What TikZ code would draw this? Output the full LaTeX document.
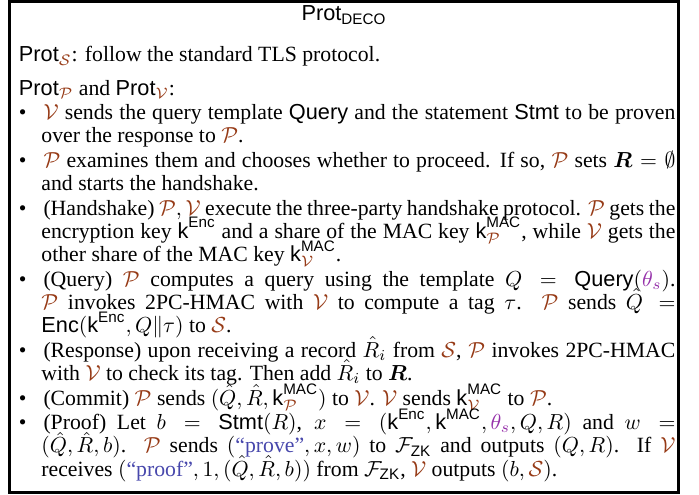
\documentclass[tikz,border=0pt]{standalone}
\usepackage{amsmath}
\usepackage{amssymb}
\usepackage{fontspec}
\setmainfont{Liberation Serif}
\setsansfont{Liberation Sans}
\usetikzlibrary{positioning}
\usetikzlibrary{calc}

\definecolor{partybrown}{RGB}{150,58,22}
\definecolor{paramviolet}{RGB}{150,50,170}
\definecolor{strblue}{RGB}{72,72,172}

\newcommand{\sfn}[1]{\text{\sffamily #1}}
\newcommand{\kkey}{\sfn{k}}
\newcommand{\prv}{{\color{partybrown}\mathcal{P}}}
\newcommand{\vrf}{{\color{partybrown}\mathcal{V}}}
\newcommand{\srv}{{\color{partybrown}\mathcal{S}}}
\newcommand{\fzk}{\mathcal{F}_{\sfn{ZK}}}
\newcommand{\thts}{{\color{paramviolet}\theta_s}}
\newcommand{\strq}[1]{\text{\color{strblue}``#1''}}
\newcommand{\stepfont}{\fontsize{10}{10.7}\selectfont
  \setlength{\lineskiplimit}{-20pt}\setlength{\lineskip}{0pt}\setlength{\parindent}{0pt}}

\newenvironment{protsteps}{\begin{list}{\textbullet}{%
  \setlength{\leftmargin}{10.35pt}\setlength{\labelsep}{7.8pt}%
  \setlength{\labelwidth}{2.55pt}\setlength{\itemsep}{0.6pt}%
  \setlength{\parsep}{0pt}\setlength{\topsep}{0pt}\setlength{\partopsep}{0pt}}}%
  {\end{list}}

\tikzset{frm/.style={draw, line width=1.38pt}}
\tikzset{ttl/.style={inner sep=0pt, anchor=base, font=\fontsize{10}{12}\selectfont}}
\tikzset{protline/.style={inner sep=0pt, anchor=base west, font=\fontsize{10}{12}\selectfont}}
\tikzset{stepbox/.style={inner sep=0pt, anchor=north west, text width=302pt, align=justify, font=\stepfont}}

\begin{document}
\begin{tikzpicture}[x=0.46pt, y=0.46pt]
        \useasboundingbox (0,0) rectangle (699,-495);
        \coordinate (nw) at (9.5,-1.5);
        \coordinate (se) at (678.5,-492.5);
        \draw[frm] (nw) rectangle (se);

        \node[ttl] (title) at (344,-21) {\sfn{Prot}$_{\sfn{DECO}}$};

        \node[protline] (srvline) at (18.5,-62) {\sfn{Prot}$_{\srv}$: follow the standard TLS protocol.};
        \node[protline, below=15.2pt of srvline.base west, anchor=base west] (cltline)
            {\sfn{Prot}$_{\prv}$ and \sfn{Prot}$_{\vrf}$:};

        \node[stepbox, below=0.3pt of cltline.base west, anchor=north west] (steps) {%
        \begin{protsteps}
        \item \rule{0pt}{8pt}$\vrf$ sends the query template \sfn{Query} and the statement \sfn{Stmt} to be proven\linebreak over the response to $\prv$.
        \item $\prv$ examines them and chooses whether to proceed. If so, $\prv$ sets $\boldsymbol{R}=\emptyset$\linebreak and starts the handshake.
        \item (Handshake) $\prv,\vrf$ execute the three-party handshake protocol. $\prv$ gets the\linebreak encryption key $\kkey^{\sfn{Enc}}$ and a share of the MAC key $\kkey^{\sfn{MAC}}_{\prv}$, while $\vrf$ gets the\linebreak other share of the MAC key $\kkey^{\sfn{MAC}}_{\vrf}$.
        \item (Query) $\prv$ computes a query using the template $Q = \sfn{Query}(\thts)$.\linebreak $\prv$ invokes 2PC-HMAC with $\vrf$ to compute a tag $\tau$. $\prv$ sends $\hat{Q} =$\linebreak $\sfn{Enc}(\kkey^{\sfn{Enc}}, Q\|\tau)$ to $\srv$.
        \item (Response) upon receiving a record $\hat{R}_i$ from $\srv$, $\prv$ invokes 2PC-HMAC\linebreak with $\vrf$ to check its tag. Then add $\hat{R}_i$ to $\boldsymbol{R}$.
        \item (Commit) $\prv$ sends $(\hat{Q},\hat{R},\kkey^{\sfn{MAC}}_{\prv})$ to $\vrf$. $\vrf$ sends $\kkey^{\sfn{MAC}}_{\vrf}$ to $\prv$.
        \item (Proof) Let $b = \sfn{Stmt}(R)$, $x = (\kkey^{\sfn{Enc}},\kkey^{\sfn{MAC}},\thts,Q,R)$ and $w =$\linebreak $(\hat{Q},\hat{R},b)$. $\prv$ sends $(\strq{prove},x,w)$ to $\fzk$ and outputs $(Q,R)$. If $\vrf$\linebreak receives $(\strq{proof},1,(\hat{Q},\hat{R},b))$ from $\fzk$, $\vrf$ outputs $(b,\srv)$.
        \end{protsteps}};
    \end{tikzpicture}
\end{document}
